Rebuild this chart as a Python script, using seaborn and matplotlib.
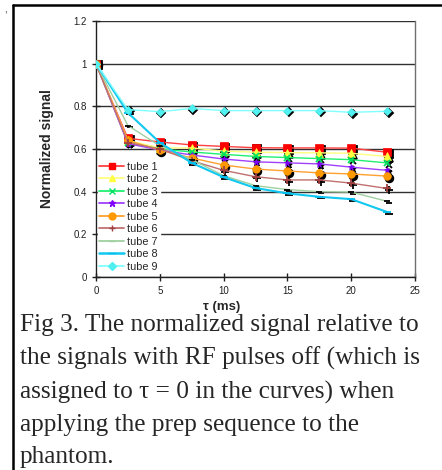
import numpy as np
import pandas as pd
import matplotlib
matplotlib.use("Agg")
import matplotlib.pyplot as plt
from matplotlib.lines import Line2D
from matplotlib.transforms import ScaledTranslation
import seaborn as sns

# ---- data ----
tau = [0, 2.5, 5, 7.5, 10, 12.5, 15, 17.5, 20, 22.8]
tube1 = [1.0, 0.65, 0.633, 0.619, 0.612, 0.606, 0.605, 0.605, 0.604, 0.585]
tube2 = [1.0, 0.64, 0.605, 0.605, 0.59, 0.585, 0.583, 0.582, 0.58, 0.565]
tube3 = [1.0, 0.63, 0.60, 0.586, 0.575, 0.565, 0.56, 0.555, 0.55, 0.535]
tube4 = [1.0, 0.625, 0.595, 0.572, 0.553, 0.54, 0.535, 0.53, 0.515, 0.50]
tube5 = [1.0, 0.64, 0.595, 0.558, 0.525, 0.506, 0.497, 0.488, 0.483, 0.473]
tube6 = [1.0, 0.63, 0.60, 0.545, 0.50, 0.47, 0.455, 0.455, 0.44, 0.415]
tube7 = [1.0, 0.71, 0.615, 0.55, 0.475, 0.428, 0.41, 0.40, 0.398, 0.355]
tube8 = [1.0, 0.77, 0.63, 0.535, 0.468, 0.417, 0.392, 0.376, 0.365, 0.305]
tube9 = [1.0, 0.785, 0.775, 0.79, 0.78, 0.78, 0.78, 0.78, 0.772, 0.777]
labels = ["tube 1", "tube 2", "tube 3", "tube 4", "tube 5",
          "tube 6", "tube 7", "tube 8", "tube 9"]
series = [tube1, tube2, tube3, tube4, tube5, tube6, tube7, tube8, tube9]

yticks = [0, 0.2, 0.4, 0.6, 0.8, 1.0, 1.2]
ytick_labels = ["0", "0.2", "0.4", "0.6", "0.8", "1", "1.2"]
xticks = [0, 5, 10, 15, 20, 25]

# ---- styles ----
line_colors = ["#FF4040", "#FFFF80", "#20F070", "#A040FF", "#FFA030",
               "#C07070", "#A0D0A0", "#10C8F0", "#80FFFF"]
marker_colors = ["#FF0000", "#FFFF40", "#00E060", "#8000FF", "#FF9900",
                 "#A04040", "#000000", "#00C0F0", "#50F0F0"]
markers = ["s", "^", "x", "*", "o", "+", "_", "_", "D"]
msizes = [5.5, 5.5, 4.5, 5, 5.5, 5.5, 5, 6, 4.5]
lwidths = [1.0, 1.0, 1.0, 1.0, 1.0, 1.0, 1.0, 1.5, 1.0]

sns.set_theme(style="white")
plt.rcParams["font.family"] = ["Liberation Sans", "DejaVu Sans"]

fig = plt.figure(figsize=(4.42, 4.70), dpi=100)
ax = fig.add_axes([96 / 442, 1 - 277 / 470, (415 - 96) / 442, (277 - 21) / 470])

shadow = ax.transData + ScaledTranslation(1.2 / 72, -1.2 / 72, fig.dpi_scale_trans)

for i, (lab, vals) in enumerate(zip(labels, series)):
    df = pd.DataFrame({"tau": tau, "signal": vals})
    # black shadow of markers
    ax.plot(df["tau"], df["signal"], linestyle="none", marker=markers[i],
            markersize=msizes[i], color="black", markeredgewidth=1.3,
            transform=shadow, zorder=2)
    sns.lineplot(data=df, x="tau", y="signal", ax=ax, color=line_colors[i],
                 linewidth=lwidths[i], marker=markers[i], markersize=msizes[i],
                 markerfacecolor=marker_colors[i], markeredgecolor=marker_colors[i],
                 markeredgewidth=1.3 if markers[i] in ("x", "+", "_") else 0.5,
                 label=lab, zorder=3, legend=False)

ax.set_xlim(0, 25)
ax.set_ylim(0, 1.2)
ax.set_yticks(yticks)
ax.set_yticklabels(ytick_labels)
ax.set_xticks(xticks)
ax.yaxis.grid(True, color="#303030", linewidth=1.0, zorder=0)
ax.xaxis.grid(False)
ax.set_axisbelow(True)
for s in ["left", "bottom"]:
    ax.spines[s].set_color("#202020")
    ax.spines[s].set_linewidth(1.0)
ax.spines["right"].set_color("#707070")
ax.spines["right"].set_linewidth(1.0)
ax.spines["top"].set_visible(False)
ax.tick_params(axis="both", direction="inout", length=6, width=1.0,
               colors="#202020", labelsize=7, left=True, bottom=True, pad=3.5)

ax.set_ylabel("Normalized signal", fontsize=10, fontweight="bold", labelpad=14)
ax.set_xlabel("\u03c4 (ms)", fontsize=9.5, fontweight="bold", labelpad=2)
ax.xaxis.set_label_coords((222 - 96) / (415 - 96), -0.094)

handles = []
for i, lab in enumerate(labels):
    handles.append(Line2D([], [], color=line_colors[i], linewidth=lwidths[i] + 0.3,
                          marker=markers[i], markersize=msizes[i] - 0.5,
                          markerfacecolor=marker_colors[i] if i != 6 else line_colors[i],
                          markeredgecolor=marker_colors[i] if i != 6 else line_colors[i],
                          markeredgewidth=1.0))
leg = ax.legend(handles, labels, loc="upper left",
                bbox_to_anchor=(0.005, (277 - 160) / 256), fontsize=7.8,
                frameon=True, facecolor="white", edgecolor="white", framealpha=1,
                borderpad=0.15, borderaxespad=0, labelspacing=0.23,
                handlelength=2.3, handletextpad=0.3, fancybox=False)
leg.set_zorder(5)

caption = ("Fig 3. The normalized signal relative to\n"
           "the signals with RF pulses off (which is\n"
           "assigned to \u03c4 = 0 in the curves) when\n"
           "applying the prep sequence to the\n"
           "phantom.")
fig.text(20 / 442, 1 - 314 / 470, caption, ha="left", va="top",
         fontsize=18.2, family=["Liberation Serif", "DejaVu Serif"],
         linespacing=1.6)

# page border (top and left)
fig.add_artist(Line2D([13 / 442, 13 / 442], [0, 1 - 5 / 470],
                      transform=fig.transFigure, color="black", linewidth=1.8))
fig.add_artist(Line2D([13 / 442, 1], [1 - 5 / 470, 1 - 5 / 470],
                      transform=fig.transFigure, color="black", linewidth=1.8))
fig.text(4 / 442, 1 - 4 / 470, ",", fontsize=7, ha="left", va="top")

fig.savefig("out.png", dpi=100)
